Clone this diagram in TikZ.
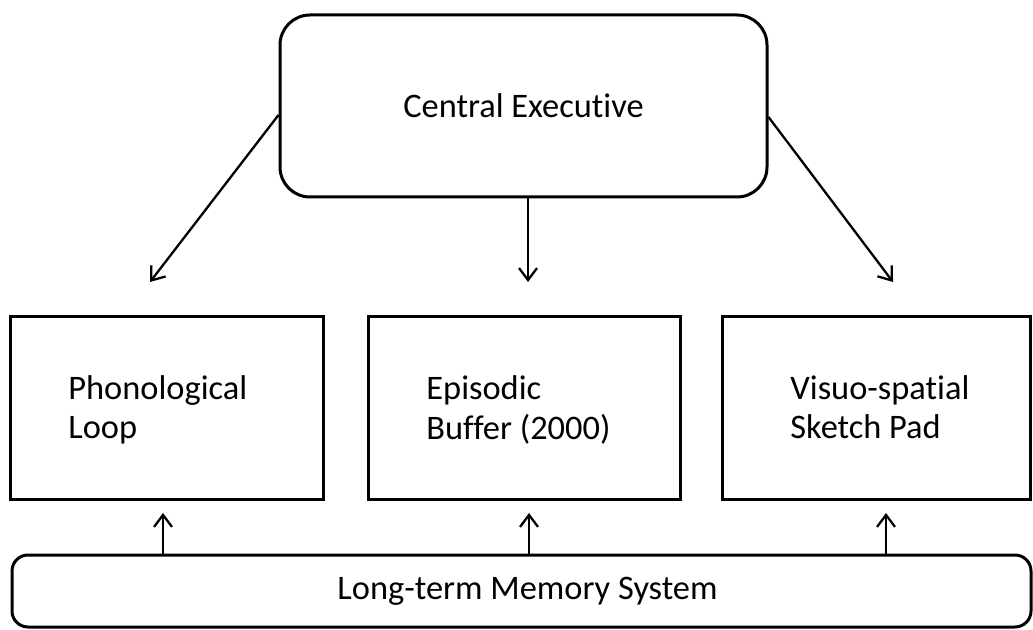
\documentclass[tikz,border=0pt]{standalone}
\usepackage{fontspec}
\setmainfont[Ligatures=NoCommon]{Carlito}
\usetikzlibrary{arrows.meta,calc}
\begin{document}
\begin{tikzpicture}[x=0.5pt,y=-0.5pt,
  every node/.style={font=\fontsize{17.2}{19.6}\selectfont, text=black},
  rbox/.style={draw=black, line width=1.5pt, minimum height=91pt, inner sep=0pt},
  txt/.style={anchor=west, align=left, inner sep=0pt},
  conn/.style={draw=black, line width=1.15pt, -{Straight Barb[length=6pt,width=9pt,line width=1.15pt]}}]
\useasboundingbox (0,0) rectangle (1033,630);
\node[rbox, rounded corners=15pt, minimum width=243.5pt] (CE) at (523.5,106) {Central Executive};
\node[rbox, minimum width=156.5pt] (P) at (166.5,408) {};
\node[rbox, minimum width=156pt] (E) at (524,408) {};
\node[rbox, minimum width=154pt] (V) at (876.5,408) {};
\node[rbox, rounded corners=8pt, minimum width=509.5pt, minimum height=36pt] (LTM) at (521.5,591) {\hspace*{6pt}Long-term Memory System};
\node[txt] (Pt) at (68,410) {Phonological\\Loop};
\node[txt] (Et) at (426,410) {Episodic\\Buffer (2000)};
\node[txt] (Vt) at (790,410) {Visuo-spatial\\Sketch Pad\vphantom{p}};
\coordinate (d1) at (150,282);
\coordinate (d2) at (528,282);
\coordinate (d3) at (893,282);
\coordinate (u1) at (163,513);
\coordinate (u2) at (529,513);
\coordinate (u3) at (886,513);
\draw[conn] ($(CE.west)+(0,9)$) -- (d1);
\draw[conn] (CE.south -| d2) -- (d2);
\draw[conn] ($(CE.east)+(0,11)$) -- (d3);
\draw[conn] (LTM.north -| u1) -- (u1);
\draw[conn] (LTM.north -| u2) -- (u2);
\draw[conn] (LTM.north -| u3) -- (u3);
\end{tikzpicture}
\end{document}
